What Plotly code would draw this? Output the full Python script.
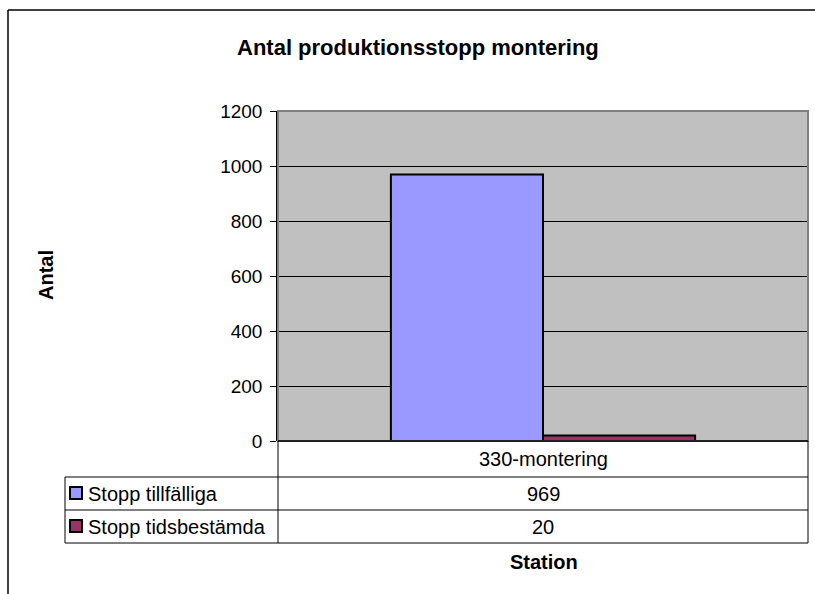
import plotly.graph_objects as go

# ---- data ----
categories = ["330-montering"]
series_names = ["Stopp tillfälliga", "Stopp tidsbestämda"]
stopp_tillfalliga = [969]
stopp_tidsbestamda = [20]
series_values = [stopp_tillfalliga, stopp_tidsbestamda]
series_colors = ["#9999FF", "#993366"]
y_ticks = [0, 200, 400, 600, 800, 1000, 1200]

W, H = 815, 594
L, R, T, B = 278, 808, 111, 441   # plot area in pixels
FONT = "Liberation Sans, Arial, sans-serif"

def px2x(px):
    return (px - L) / (R - L)

def px2y(py):
    return (B - py) / (B - T)

fig = go.Figure()
for name, vals, col in zip(series_names, series_values, series_colors):
    fig.add_trace(go.Bar(
        x=categories, y=vals, name=name,
        marker=dict(color=col, line=dict(color="#000000", width=2)),
        showlegend=False, hoverinfo="x+y+name",
    ))

shapes = []
annotations = []

def line(x0, y0, x1, y1, color="#000000", width=1):
    shapes.append(dict(type="line", xref="paper", yref="paper",
                       x0=px2x(x0), y0=px2y(y0), x1=px2x(x1), y1=px2y(y1),
                       line=dict(color=color, width=width)))

def text(px, py, s, size=20, xanchor="center", angle=0):
    annotations.append(dict(x=px2x(px), xref="paper", y=px2y(py), yref="paper",
                            text=s, showarrow=False, xanchor=xanchor, yanchor="middle",
                            textangle=angle,
                            font=dict(family=FONT, size=size, color="#000000")))

# outer chart border
line(8, 10, 815, 10, "#000000", 1.5)
line(8, 10, 8, 594, "#000000", 1.5)

# plot area border
shapes.append(dict(type="rect", xref="paper", yref="paper", x0=0, y0=0, x1=1, y1=1,
                   line=dict(color="#808080", width=2), layer="above"))

# data table
tbl_left = 65
row_y = [441, 477, 510, 543]
line(L, row_y[0], R, row_y[0], "#000000", 1.5)
for yy in row_y[1:]:
    line(tbl_left, yy, R, yy, "#000000", 1)
line(tbl_left, row_y[1], tbl_left, row_y[3])
line(L, row_y[0], L, row_y[3])
line(R, row_y[0], R, row_y[3])

cat_center = (L + R) / 2
# category header
text(cat_center, (row_y[0] + row_y[1]) / 2, categories[0], 20)
for i, (name, vals, col) in enumerate(zip(series_names, series_values, series_colors)):
    yc = (row_y[i + 1] + row_y[i + 2]) / 2
    shapes.append(dict(type="rect", xref="paper", yref="paper",
                       x0=px2x(70), x1=px2x(82), y0=px2y(yc - 6.5), y1=px2y(yc + 5.5),
                       fillcolor=col, line=dict(color="#000000", width=2)))
    text(86, yc, name, 20, xanchor="left")
    text(cat_center, yc, str(vals[0]), 20)

# titles
text(418, 47, "<b>Antal produktionsstopp montering</b>", 22)
text(46, 275, "<b>Antal</b>", 20, angle=-90)
text(544, 562, "<b>Station</b>", 20)

fig.update_layout(
    width=W, height=H,
    margin=dict(l=L, r=W - R, t=T, b=H - B, pad=0),
    paper_bgcolor="#FFFFFF", plot_bgcolor="#C0C0C0",
    barmode="group", bargap=0.426, bargroupgap=0,
    shapes=shapes, annotations=annotations,
    font=dict(family=FONT, size=20, color="#000000"),
    xaxis=dict(showticklabels=False, ticks="", showgrid=False, zeroline=False,
               showline=False, fixedrange=True),
    yaxis=dict(range=[0, 1200], tickvals=y_ticks, ticks="outside", ticklen=6,
               tickcolor="#000000", tickwidth=1, showgrid=True, gridcolor="#000000",
               gridwidth=1, zeroline=False, showline=True, linecolor="#000000",
               linewidth=1.5, tickfont=dict(family=FONT, size=19, color="#000000"),
               ticklabelstandoff=4, fixedrange=True),
)

fig.write_html("out.html", config={"displayModeBar": False},
               post_script="document.body.style.margin='0';")
